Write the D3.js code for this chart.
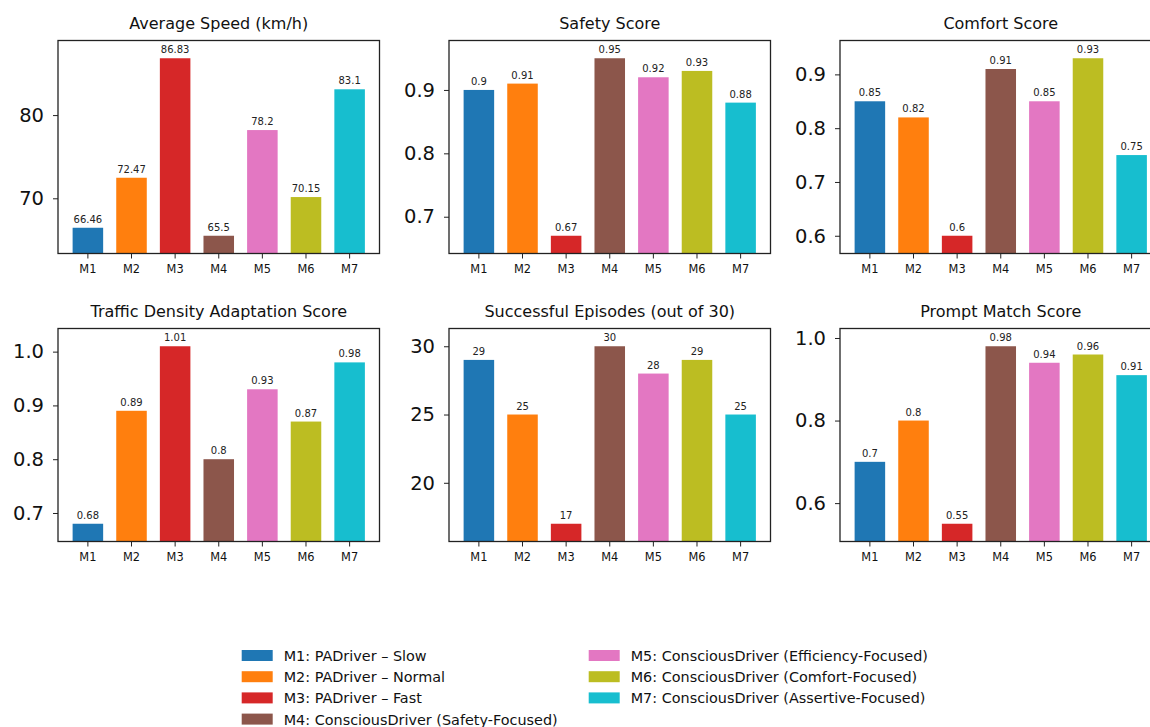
<!DOCTYPE html>
<html>
<head>
<meta charset="utf-8">
<script src="https://cdn.jsdelivr.net/npm/d3@7"></script>
<style>
  html, body { margin: 0; padding: 0; background: #fff; }
  svg { display: block; font-family: "DejaVu Sans", sans-serif; }
</style>
</head>
<body>
<svg id="chart" width="1150" height="727"></svg>
<script>
// Model identifiers and their descriptions
const models = ["M1", "M2", "M3", "M4", "M5", "M6", "M7"];
const modelNames = [
  "M1: PADriver \u2013 Slow",
  "M2: PADriver \u2013 Normal",
  "M3: PADriver \u2013 Fast",
  "M4: ConsciousDriver (Safety-Focused)",
  "M5: ConsciousDriver (Efficiency-Focused)",
  "M6: ConsciousDriver (Comfort-Focused)",
  "M7: ConsciousDriver (Assertive-Focused)"
];
const modelColors = ["#1f77b4", "#ff7f0e", "#d62728", "#8c564b", "#e377c2", "#bcbd22", "#17becf"];

// Metric values per model
const avgSpeed = [66.46, 72.47, 86.83, 65.5, 78.2, 70.15, 83.1];
const safetyScore = [0.9, 0.91, 0.67, 0.95, 0.92, 0.93, 0.88];
const comfortScore = [0.85, 0.82, 0.6, 0.91, 0.85, 0.93, 0.75];
const trafficScore = [0.68, 0.89, 1.01, 0.8, 0.93, 0.87, 0.98];
const successEpisodes = [29, 25, 17, 30, 28, 29, 25];
const promptScore = [0.7, 0.8, 0.55, 0.98, 0.94, 0.96, 0.91];

// Y tick labels per panel
const avgSpeedTicks = [70, 80];
const safetyTicks = [0.7, 0.8, 0.9];
const comfortTicks = [0.6, 0.7, 0.8, 0.9];
const trafficTicks = [0.7, 0.8, 0.9, 1.0];
const episodeTicks = [20, 25, 30];
const promptTicks = [0.6, 0.8, 1.0];

const panels = [
  { title: "Average Speed (km/h)", values: avgSpeed, ticks: avgSpeedTicks, fmt: d3.format("d") },
  { title: "Safety Score", values: safetyScore, ticks: safetyTicks, fmt: d3.format(".1f") },
  { title: "Comfort Score", values: comfortScore, ticks: comfortTicks, fmt: d3.format(".1f") },
  { title: "Traffic Density Adaptation Score", values: trafficScore, ticks: trafficTicks, fmt: d3.format(".1f") },
  { title: "Successful Episodes (out of 30)", values: successEpisodes, ticks: episodeTicks, fmt: d3.format("d") },
  { title: "Prompt Match Score", values: promptScore, ticks: promptTicks, fmt: d3.format(".1f") }
];

const svg = d3.select("#chart");
const colX = [58, 449, 840];
const rowY = [40.5, 328.5];
const pw = 321.5, ph = 213;

panels.forEach((p, i) => {
  const gx = colX[i % 3], gy = rowY[Math.floor(i / 3)];
  const g = svg.append("g").attr("transform", `translate(${gx},${gy})`);

  const lo = d3.min(p.values), hi = d3.max(p.values), pad = (hi - lo) * 0.1;
  const y = d3.scaleLinear().domain([lo - pad, hi + pad]).range([ph, 0]);
  const x = d3.scaleBand().domain(models).range([0, pw]).paddingInner(0.3).paddingOuter(0.335);

  g.append("defs").append("clipPath").attr("id", "clip" + i)
    .append("rect").attr("width", pw).attr("height", ph);

  const bars = g.append("g").attr("clip-path", `url(#clip${i})`);
  bars.selectAll("rect").data(p.values).join("rect")
    .attr("x", (d, j) => x(models[j]))
    .attr("width", x.bandwidth())
    .attr("y", d => y(d))
    .attr("height", d => ph - y(d) + 2)
    .attr("fill", (d, j) => modelColors[j]);

  g.selectAll("text.val").data(p.values).join("text")
    .attr("class", "val")
    .attr("x", (d, j) => x(models[j]) + x.bandwidth() / 2)
    .attr("y", d => y(d) - 5)
    .attr("text-anchor", "middle")
    .attr("font-size", 10)
    .attr("fill", "#222")
    .text(d => String(d));

  const ya = g.append("g").call(d3.axisLeft(y).tickValues(p.ticks).tickFormat(p.fmt).tickSize(5).tickPadding(9));
  ya.select(".domain").remove();
  ya.selectAll("line").attr("stroke", "#222").attr("stroke-width", 1);
  ya.selectAll("text").attr("font-size", 19.5).attr("fill", "#111").attr("font-family", "DejaVu Sans");

  const xa = g.append("g").attr("transform", `translate(0,${ph})`)
    .call(d3.axisBottom(x).tickSize(5).tickPadding(6));
  xa.select(".domain").remove();
  xa.selectAll("line").attr("stroke", "#222").attr("stroke-width", 1);
  xa.selectAll("text").attr("font-size", 11.4).attr("fill", "#111").attr("font-family", "DejaVu Sans");

  g.append("rect").attr("width", pw).attr("height", ph)
    .attr("fill", "none").attr("stroke", "#222").attr("stroke-width", 1.3);

  g.append("text")
    .attr("x", pw / 2).attr("y", -12)
    .attr("text-anchor", "middle")
    .attr("font-size", 16)
    .attr("fill", "#111")
    .text(p.title);
});

// Legend in two columns below the panels
const legendCols = [241.7, 588.7];
const legendRows = [656, 677.2, 698.4, 719.6];
const legend = svg.append("g");
modelNames.forEach((name, i) => {
  const col = i < 4 ? 0 : 1, row = i < 4 ? i : i - 4;
  const lx = legendCols[col], ly = legendRows[row];
  legend.append("rect")
    .attr("x", lx).attr("y", ly - 6)
    .attr("width", 31).attr("height", 11)
    .attr("fill", modelColors[i]);
  legend.append("text")
    .attr("x", lx + 42).attr("y", ly)
    .attr("dominant-baseline", "central")
    .attr("font-size", 14.4)
    .attr("fill", "#111")
    .text(name);
});
</script>
</body>
</html>
